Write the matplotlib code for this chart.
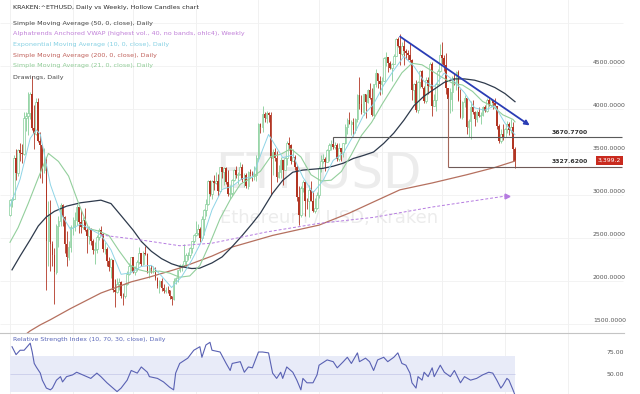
import numpy as np
import matplotlib.pyplot as plt
from matplotlib.lines import Line2D

# daily candles, day 0 = 2021-05-01 ... day 250 = 2022-01-06 (open = previous close)
first_open = 2770
close = [
    # May
    2945, 2950, 3430, 3250, 3520, 3490, 3480, 3900, 3920, 3950, 4170, 3780, 3710, 4080, 3630, 3580,
    3290, 3380, 2460, 2770, 2430, 2300, 2100, 2640, 2700, 2880, 2740, 2430, 2280, 2390, 2630,
    # Jun
    2630, 2710, 2860, 2690, 2630, 2710, 2590, 2520, 2610, 2470, 2360, 2370, 2510, 2590, 2550,
    2370, 2370, 2230, 2160, 2250, 1890, 1875, 1970, 1990, 1830, 1820, 1970, 2080, 2170, 2275,
    # Jul
    2110, 2150, 2225, 2320, 2200, 2325, 2315, 2115, 2150, 2140, 2140, 2035, 1940, 1995, 1915, 1880,
    1900, 1895, 1820, 1785, 1995, 2030, 2125, 2185, 2190, 2230, 2300, 2300, 2380, 2460, 2535,
    # Aug
    2560, 2610, 2505, 2725, 2830, 2890, 3160, 3010, 3160, 3140, 3165, 3050, 3320, 3270, 3310, 3150,
    3010, 3020, 3180, 3290, 3230, 3240, 3320, 3170, 3230, 3100, 3270, 3240, 3220, 3230, 3430,
    # Sep
    3830, 3790, 3940, 3890, 3950, 3925, 3430, 3500, 3425, 3210, 3270, 3410, 3290, 3430, 3610,
    3580, 3400, 3440, 3330, 2980, 2765, 3080, 3150, 2930, 2925, 3060, 2930, 2810, 2850, 3000,
    # Oct
    3310, 3390, 3420, 3385, 3520, 3580, 3590, 3560, 3580, 3415, 3545, 3495, 3600, 3790, 3870, 3830,
    3850, 3750, 3880, 4160, 4060, 3970, 4170, 4085, 4220, 4130, 3925, 4285, 4415, 4325, 4290,
    # Nov
    4325, 4590, 4605, 4535, 4475, 4520, 4620, 4810, 4730, 4640, 4730, 4670, 4650, 4625, 4575,
    4220, 4290, 3990, 4310, 4440, 4250, 4090, 4340, 4270, 4520, 4040, 4100, 4290, 4440, 4630,
    # Dec
    4590, 4510, 4240, 4120, 4200, 4360, 4310, 4430, 4110, 3910, 4080, 4130, 3790, 3860, 4020, 3960,
    3880, 3960, 3920, 3930, 4020, 3980, 4110, 4050, 4100, 4070, 4040, 3800, 3630, 3715, 3680,
    # Jan
    3770, 3830, 3760, 3795, 3540, 3399.2,
]
high = [
    2950, 2980, 3460, 3530, 3540, 3610, 3590, 3970, 3970, 4200, 4200, 4380, 4050, 4130, 4130, 3730,
    3590, 3550, 3440, 2930, 2940, 2470, 2380, 2660, 2750, 2910, 2890, 2760, 2580, 2460, 2650,
    2740, 2800, 2890, 2860, 2820, 2740, 2850, 2620, 2640, 2620, 2490, 2450, 2530, 2620, 2640,
    2560, 2450, 2390, 2280, 2270, 2250, 2020, 2040, 2040, 2000, 1860, 1980, 2120, 2210, 2280,
    2270, 2170, 2240, 2390, 2320, 2350, 2410, 2320, 2190, 2190, 2170, 2160, 2050, 2010, 2030, 1960,
    1930, 1940, 1900, 1830, 2030, 2050, 2130, 2200, 2200, 2430, 2320, 2340, 2400, 2470, 2550,
    2700, 2660, 2630, 2750, 2840, 2950, 3180, 3180, 3180, 3230, 3270, 3240, 3330, 3330, 3320, 3330,
    3290, 3120, 3190, 3300, 3340, 3270, 3380, 3360, 3250, 3250, 3280, 3300, 3280, 3340, 3470,
    3840, 3840, 4030, 3970, 3980, 3960, 3970, 3540, 3550, 3510, 3350, 3440, 3400, 3440, 3630,
    3680, 3590, 3540, 3460, 3350, 3100, 3100, 3170, 3160, 2970, 3120, 3160, 3050, 2960, 3040,
    3340, 3470, 3480, 3440, 3540, 3610, 3640, 3670.77, 3620, 3600, 3610, 3550, 3610, 3830, 3900, 3960,
    3870, 3900, 3890, 4180, 4370, 4160, 4180, 4170, 4230, 4300, 4250, 4290, 4460, 4420, 4380,
    4370, 4600, 4660, 4610, 4560, 4530, 4640, 4820, 4840, 4870, 4780, 4810, 4700, 4690, 4770,
    4580, 4300, 4340, 4330, 4450, 4450, 4270, 4370, 4370, 4550, 4550, 4170, 4300, 4460, 4760,
    4780, 4630, 4650, 4240, 4250, 4380, 4420, 4440, 4450, 4230, 4090, 4160, 4130, 3880, 4090, 4100,
    3980, 3990, 4020, 3960, 4040, 4050, 4130, 4130, 4130, 4110, 4130, 4040, 3830, 3770, 3820,
    3780, 3860, 3850, 3880, 3850, 3560,
]
low = [
    2760, 2860, 2950, 3170, 3220, 3400, 3370, 3460, 3740, 3700, 3880, 3750, 3530, 3700, 3620, 3200,
    3140, 3260, 1900, 2170, 2120, 2180, 1730, 2080, 2400, 2640, 2640, 2320, 2180, 2250, 2340,
    2530, 2580, 2650, 2560, 2560, 2610, 2580, 2330, 2430, 2420, 2310, 2200, 2320, 2480, 2530,
    2340, 2310, 2180, 2120, 2040, 1870, 1700, 1860, 1890, 1800, 1720, 1800, 1950, 2070, 2120,
    2090, 2070, 2120, 2200, 2170, 2190, 2300, 2090, 2040, 2090, 2090, 2010, 1920, 1860, 1880, 1860,
    1860, 1860, 1790, 1720, 1780, 1960, 1990, 2100, 2120, 2180, 2150, 2250, 2270, 2320, 2440,
    2520, 2540, 2450, 2480, 2530, 2750, 2880, 2990, 2950, 3060, 3130, 2990, 3040, 3200, 3120, 3130,
    2990, 2950, 2990, 3160, 3200, 3130, 3230, 3150, 3090, 3080, 3070, 3220, 3160, 3170, 3160,
    3390, 3720, 3730, 3850, 3840, 3850, 3000, 3230, 3400, 3150, 3200, 3200, 3120, 3290, 3350,
    3520, 3360, 3390, 3290, 2930, 2650, 2740, 3030, 2750, 2840, 2740, 2930, 2800, 2790, 2840,
    2970, 3270, 3370, 3280, 3380, 3400, 3520, 3540, 3540, 3400, 3400, 3390, 3440, 3590, 3710, 3820,
    3700, 3690, 3720, 3850, 4000, 3940, 3930, 3890, 4070, 4120, 3920, 3890, 4260, 4250, 4160,
    4170, 4320, 4500, 4430, 4460, 4330, 4520, 4620, 4720, 4510, 4620, 4510, 4580, 4570, 4550,
    4110, 4070, 3970, 3950, 4250, 4240, 4070, 4070, 4180, 4250, 3920, 4030, 3980, 4280, 4430,
    4520, 4440, 4170, 3500, 3950, 3980, 4280, 4220, 4090, 3900, 3880, 4020, 3710, 3680, 3650, 3940,
    3800, 3850, 3910, 3830, 3920, 3960, 3960, 4030, 4030, 4000, 4030, 3770, 3610, 3600, 3640,
    3680, 3720, 3700, 3720, 3400, 3310,
]

# indicator lines (day, value)
sma50_day = [1, 5, 10, 14, 18, 22, 28, 35, 45, 50, 55, 61, 65, 70, 75, 80, 84, 90, 94, 100, 105, 110,
             115, 120, 124, 130, 135, 140, 145, 150, 155, 160, 165, 170, 175, 180, 185, 190, 195, 200,
             205, 210, 215, 220, 225, 230, 235, 240, 245, 250]
sma50_val = [2130, 2290, 2480, 2640, 2745, 2810, 2870, 2910, 2940, 2900, 2760, 2590, 2460, 2345, 2260,
             2200, 2170, 2145, 2150, 2210, 2280, 2400, 2530, 2670, 2790, 3020, 3170, 3265, 3290, 3300,
             3310, 3335, 3370, 3425, 3460, 3500, 3600, 3720, 3870, 4040, 4150, 4230, 4310, 4350, 4350,
             4335, 4300, 4250, 4180, 4085]
sma200_day = [0, 5, 10, 15, 20, 30, 45, 60, 69, 84, 100, 110, 130, 153, 168, 180, 193, 209, 226, 240, 250]
sma200_val = [1250, 1330, 1420, 1490, 1550, 1680, 1860, 1990, 2045, 2150, 2290, 2395, 2530, 2650, 2790,
              2920, 3060, 3140, 3235, 3320, 3395]
ema10_day = [0, 5, 10, 13, 15, 20, 25, 30, 35, 40, 45, 50, 55, 60, 65, 70, 75, 80, 85, 90, 95, 100,
             105, 110, 115, 120, 125, 128, 130, 135, 140, 145, 150, 155, 160, 165, 170, 175, 180, 185,
             190, 195, 200, 205, 210, 215, 220, 225, 230, 235, 240, 245, 250]
ema10_val = [2867, 3184, 3659, 3757, 3706, 3121, 2789, 2600, 2663, 2600, 2536, 2362, 2078, 2096, 2170,
             2182, 2059, 1924, 2051, 2243, 2468, 2827, 3066, 3101, 3191, 3207, 3524, 3704, 3627, 3434,
             3465, 3207, 3026, 3168, 3403, 3485, 3692, 3926, 4058, 4278, 4451, 4612, 4496, 4320, 4260,
             4419, 4320, 4189, 4014, 3985, 4038, 3837, 3701]
sma21_day = [0, 4, 9, 14, 19, 24, 29, 34, 39, 44, 49, 54, 59, 64, 69, 74, 79, 84, 89, 94, 99, 104, 109,
             114, 119, 124, 129, 134, 139, 144, 149, 154, 159, 164, 169, 174, 179, 184, 189, 194, 199,
             204, 209, 214, 219, 224, 229, 234, 239, 244, 249, 250]
sma21_val = [2450, 2620, 2900, 3200, 3484, 3390, 3220, 2900, 2610, 2580, 2528, 2351, 2191, 2130, 2102,
             2115, 2092, 2044, 2059, 2180, 2440, 2726, 2944, 3124, 3193, 3277, 3445, 3473, 3538, 3443,
             3236, 3163, 3172, 3272, 3470, 3693, 3844, 4047, 4236, 4421, 4532, 4514, 4441, 4367, 4301,
             4279, 4204, 4087, 4031, 3932, 3879, 3850]
vwap_day = [45, 64, 84, 100, 127, 153, 180, 209, 246]
vwap_val = [2535, 2480, 2410, 2440, 2570, 2670, 2740, 2860, 2990]

rsi_day = [1, 3, 5, 7, 10, 11, 12, 13, 15, 16, 18, 20, 21, 23, 25, 26, 28, 31, 33, 36, 40, 43, 45, 48,
           51, 53, 55, 58, 60, 63, 65, 68, 69, 73, 76, 79, 81, 82, 84, 88, 91, 94, 95, 97, 99, 100, 104,
           107, 109, 110, 114, 116, 118, 120, 123, 125, 128, 130, 132, 134, 135, 137, 140, 142, 144,
           145, 147, 150, 152, 153, 157, 160, 162, 165, 167, 169, 172, 173, 176, 178, 180, 182, 185,
           187, 190, 192, 194, 196, 198, 199, 201, 202, 204, 205, 207, 209, 210, 213, 215, 218, 220,
           223, 225, 228, 231, 234, 237, 239, 241, 243, 244, 246, 247, 249, 250]
rsi_val = [81, 72, 77, 77, 85, 75, 62, 58, 51, 43, 34, 32, 34, 43, 47, 41, 47, 49, 52, 49, 45, 51, 47, 40,
           34, 30, 34, 43, 54, 51, 58, 52, 47, 45, 41, 35, 32, 51, 62, 68, 77, 81, 69, 83, 86, 77, 75,
           62, 54, 62, 64, 52, 58, 57, 75, 75, 74, 51, 45, 52, 45, 58, 52, 43, 32, 45, 40, 40, 49, 60,
           66, 64, 57, 64, 69, 62, 74, 64, 68, 64, 54, 66, 69, 64, 69, 74, 62, 60, 51, 40, 34, 47, 43,
           52, 47, 57, 47, 60, 52, 47, 54, 40, 47, 43, 45, 49, 52, 51, 43, 34, 37, 45, 43, 32, 26]

price_ticks = [1500, 2000, 2500, 3000, 3500, 4000, 4500]
rsi_ticks = [25, 50, 75]
month_days = [0, 31, 61, 92, 123, 153, 184, 214, 245, 276]
level_hi = 3670.77
level_lo = 3327.62
last_price = 3399.2

GREEN = "#84cd98"
RED = "#b23624"

W, H = 640, 394
fig = plt.figure(figsize=(6.4, 3.94), dpi=100)
ax = fig.add_axes([0, 61 / H, 1, 333 / H])
rax = fig.add_axes([0, 0, 1, 61 / H])

xl = (-10 / 2.02, 630 / 2.02)
for a in (ax, rax):
    a.set_xlim(*xl)
    a.axis("off")
    for d in month_days:
        a.axvline(d, color="#efefef", lw=0.6, zorder=0)
ax.set_ylim(4500 - 267 / 0.086, 4500 + 66 / 0.086)
rax.set_ylim(50 - 20 / 0.88, 50 + 41 / 0.88)

xr = (623 - 10) / 2.02
ax.hlines(price_ticks + [5000], xl[0], xr, color="#f1f1f1", lw=0.6, zorder=0)

# watermark
ax.text(152.5, 3233, "ETHUSD", fontsize=36, color="#ececec", ha="center", va="center", zorder=0)
ax.text(158, 2733, "Ethereum / USD, Kraken", fontsize=13, color="#ececec", ha="center", va="center", zorder=0)

# candles
c = np.array(close, float)
h = np.array(high, float)
l = np.array(low, float)
o = np.r_[first_open, c[:-1]]
days = np.arange(len(c))
up = c >= o
dn = ~up
ax.vlines(days[up], l[up], h[up], color=GREEN, lw=0.6, zorder=2)
ax.bar(days[up], (c - o)[up], bottom=o[up], width=0.8, facecolor="white", edgecolor=GREEN, lw=0.5, zorder=3)
ax.vlines(days[dn], l[dn], h[dn], color=RED, lw=0.6, zorder=2)
ax.bar(days[dn], (c - o)[dn], bottom=o[dn], width=0.85, color=RED, lw=0, zorder=3)

# moving averages
ax.plot(sma200_day, sma200_val, color="#b5705f", lw=0.9, zorder=4)
ax.plot(sma50_day, sma50_val, color="#2e3a4c", lw=0.9, zorder=4)
ax.plot(sma21_day, sma21_val, color="#93cf9c", lw=0.8, zorder=4)
ax.plot(ema10_day, ema10_val, color="#8ed4e6", lw=0.7, zorder=4)
ax.plot(vwap_day, vwap_val, color="#b57be0", lw=0.7, ls=(0, (3, 2)), zorder=4)
ax.plot(vwap_day[-1], vwap_val[-1], marker=">", ms=3.5, color="#b57be0", zorder=4)

# drawings
ax.hlines(level_hi, 160, 303, color="#5a5a5a", lw=0.8, zorder=5)
ax.vlines(160, level_hi - 70, level_hi, color="#5a5a5a", lw=0.8, zorder=5)
ax.vlines(217, level_lo, 4140, color="#a5675a", lw=0.8, zorder=5)
ax.hlines(level_lo, 217, 303, color="#6e5a58", lw=0.8, zorder=5)
ax.annotate("", xy=(258.4, 3791), xytext=(192, 4860),
            arrowprops=dict(arrowstyle="-|>", color="#2a3db5", lw=1.3, mutation_scale=7), zorder=6)

# price scale
for p in price_ticks:
    ax.annotate(f"{p:.4f}", xy=(626 / W, p), xycoords=("axes fraction", "data"), xytext=(0, 2.2),
                textcoords="offset points", ha="right", va="center", fontsize=4.4, color="#555555")
for p in (level_hi, level_lo):
    ax.annotate(f"{p:.4f}", xy=(552 / W, p), xycoords=("axes fraction", "data"), xytext=(0, 3.8),
                textcoords="offset points", ha="left", va="center", fontsize=4.4, color="#333333",
                fontweight="bold")
ax.annotate(f"{last_price:,.1f}", xy=(609.5 / W, last_price), xycoords=("axes fraction", "data"),
            ha="center", va="center", fontsize=4.4, color="white",
            bbox=dict(boxstyle="square,pad=0.3", fc="#c92a1e", ec="none"), zorder=7)

# RSI panel
rax.fill_between([0, 250], 30, 70, color="#e8ebf8", lw=0, zorder=1)
rax.hlines(50, 0, 250, color="#c9cdea", lw=0.6, zorder=1)
rax.plot(rsi_day, rsi_val, color="#5961b3", lw=0.8, zorder=3)
for r in rsi_ticks:
    rax.annotate(f"{r:.2f}", xy=(624 / W, r), xycoords=("axes fraction", "data"),
                 ha="right", va="center", fontsize=4.4, color="#555555")
fig.add_artist(Line2D([0, 624 / W], [61 / H, 61 / H], transform=fig.transFigure, color="#c4c4c4", lw=0.8))
fig.text(13 / W, 1 - 339 / H, "Relative Strength Index (10, 70, 30, close), Daily", fontsize=4.5,
         color="#5865b8", va="center")

# header / legend texts
legend = [
    ("KRAKEN:^ETHUSD, Daily vs Weekly, Hollow Candles chart", "#2a2a2a", 8),
    ("Simple Moving Average (50, 0, close), Daily", "#444444", 23),
    ("Alphatrends Anchored VWAP (highest vol., 40, no bands, ohlc4), Weekly", "#c07fd8", 34),
    ("Exponential Moving Average (10, 0, close), Daily", "#84d0e3", 44.6),
    ("Simple Moving Average (200, 0, close), Daily", "#c0605a", 55.4),
    ("Simple Moving Average (21, 0, close), Daily", "#8fcc96", 66),
    ("Drawings, Daily", "#444444", 77),
]
for txt, col, y in legend:
    fig.text(13 / W, 1 - y / H, txt, fontsize=4.6, color=col, va="center")

fig.savefig("out.png", dpi=100)
